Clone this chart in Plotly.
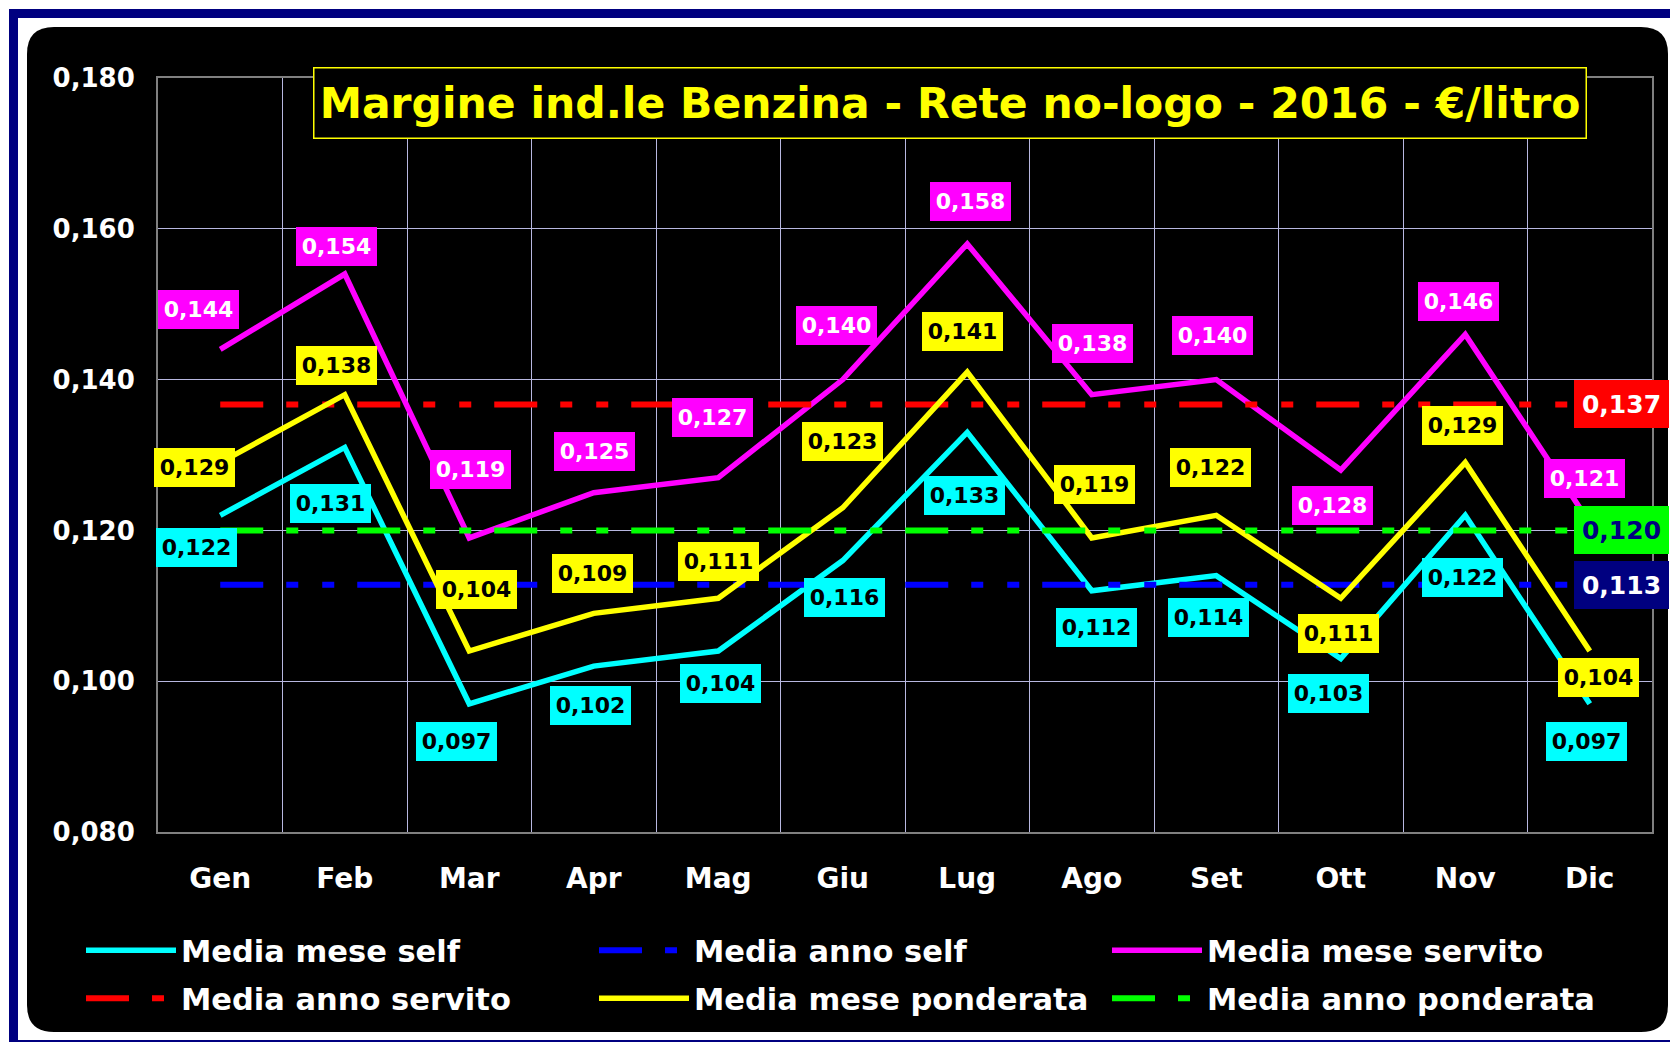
import plotly.graph_objects as go

# ---------------- data ----------------
months = ["Gen", "Feb", "Mar", "Apr", "Mag", "Giu", "Lug", "Ago", "Set", "Ott", "Nov", "Dic"]
self_mese = [0.122, 0.131, 0.097, 0.102, 0.104, 0.116, 0.133, 0.112, 0.114, 0.103, 0.122, 0.097]
servito_mese = [0.144, 0.154, 0.119, 0.125, 0.127, 0.140, 0.158, 0.138, 0.140, 0.128, 0.146, 0.121]
ponderata_mese = [0.129, 0.138, 0.104, 0.109, 0.111, 0.123, 0.141, 0.119, 0.122, 0.111, 0.129, 0.104]
self_anno = 0.1128
servito_anno = 0.1367
ponderata_anno = 0.1200
y_ticks = [0.08, 0.10, 0.12, 0.14, 0.16, 0.18]

# label offsets (pixels) relative to each point
self_dx = [-24, -14, -13, -3, 2, 2, -3, 5, -8, -12, -3, -3]
self_dy = [-32, -56, -38, -39, -32, -37, -63, -37, -42, -35, -62, -38]
serv_dx = [-22, -8, 1, 1, -6, -6, 3, 1, -4, -8, -7, -5]
serv_dy = [40, 28, 68, 41, 60, 54, 42, 51, 44, -35, 33, 44]
pond_dx = [-26, -8, 7, -1, 0, 0, -5, 3, -6, -2, -3, 9]
pond_dy = [-5, 29, 62, 40, 37, 66, 41, 53, 48, -35, 37, -26]

FONT = "DejaVu Sans"
W, H = 1670, 1042
L, R, T, B = 158, 18, 78, 210
PW, PH = W - L - R, H - T - B

def px_x(p):
    return (p - L) / PW

def px_y(p):
    return (H - B - p) / PH

DASH = "43px,23px,12px,24px,12px,23px"

fig = go.Figure()
fig.add_trace(go.Scatter(x=months, y=self_mese, mode="lines", name="Media mese self",
                         line=dict(color="#00FFFF", width=5.5), legend="legend"))
fig.add_trace(go.Scatter(x=months, y=[self_anno] * len(months), mode="lines", name="Media anno self",
                         line=dict(color="#0000FF", width=6, dash=DASH), legend="legend"))
fig.add_trace(go.Scatter(x=months, y=servito_mese, mode="lines", name="Media mese servito",
                         line=dict(color="#FF00FF", width=5.5), legend="legend"))
fig.add_trace(go.Scatter(x=months, y=[servito_anno] * len(months), mode="lines", name="Media anno servito",
                         line=dict(color="#FF0000", width=6, dash=DASH), legend="legend2"))
fig.add_trace(go.Scatter(x=months, y=ponderata_mese, mode="lines", name="Media mese ponderata",
                         line=dict(color="#FFFF00", width=5.5), legend="legend2"))
fig.add_trace(go.Scatter(x=months, y=[ponderata_anno] * len(months), mode="lines", name="Media anno ponderata",
                         line=dict(color="#00FF00", width=6, dash=DASH), legend="legend2"))

def fmt(v):
    return f"{v:.3f}".replace(".", ",")

ann = []
def add_labels(vals, dxs, dys, bg, fg):
    for m, v, dx, dy in zip(months, vals, dxs, dys):
        ann.append(dict(x=m, y=v, xref="x", yref="y", text=f"<b>{fmt(v)}</b>", showarrow=False,
                        xanchor="center", yanchor="middle",
                        xshift=dx, yshift=dy, bgcolor=bg, borderpad=0, borderwidth=0,
                        width=81, height=39, font=dict(family=FONT, size=22, color=fg)))

add_labels(self_mese, self_dx, self_dy, "#00FFFF", "#000000")
add_labels(servito_mese, serv_dx, serv_dy, "#FF00FF", "#FFFFFF")
add_labels(ponderata_mese, pond_dx, pond_dy, "#FFFF00", "#000000")

for v, bg, fg in [(servito_anno, "#FF0000", "#FFFFFF"), (ponderata_anno, "#00FF00", "#000080"),
                  (self_anno, "#000080", "#FFFFFF")]:
    ann.append(dict(x=months[-1], y=v, xref="x", yref="y", text=f"<b>{fmt(v)}</b>", showarrow=False,
                    xanchor="center", yanchor="middle",
                    xshift=32, yshift=0, bgcolor=bg, borderpad=0, borderwidth=0,
                    width=95, height=48, font=dict(family=FONT, size=25, color=fg)))

# title box
ann.append(dict(x=px_x(950), y=px_y(103.3), xref="paper", yref="paper", xanchor="center", yanchor="middle",
                text="<b>Margine ind.le Benzina - Rete no-logo - 2016 - €/litro</b>",
                showarrow=False, bgcolor="#000000", bordercolor="#FFFF00", borderwidth=1.5,
                borderpad=0, width=1271, height=69, font=dict(family=FONT, size=42.5, color="#FFFF00")))

# background shapes
x0, x1, y0, y1 = px_x(27), px_x(1668), px_y(1032), px_y(27)
rx, ry = 27 / PW, 27 / PH
path = (f"M{x0+rx},{y1} L{x1-rx},{y1} Q{x1},{y1} {x1},{y1-ry} L{x1},{y0+ry} Q{x1},{y0} {x1-rx},{y0} "
        f"L{x0+rx},{y0} Q{x0},{y0} {x0},{y0+ry} L{x0},{y1-ry} Q{x0},{y1} {x0+rx},{y1} Z")
shapes = [
    dict(type="rect", xref="paper", yref="paper", x0=px_x(13.5), x1=px_x(1690), y0=px_y(1044.5), y1=px_y(13.5),
         line=dict(color="#000080", width=9), fillcolor="rgba(0,0,0,0)", layer="below"),
    dict(type="path", xref="paper", yref="paper", path=path, fillcolor="#000000",
         line=dict(width=0), layer="below"),
]

legend_common = dict(orientation="h", xanchor="left", yanchor="top", entrywidth=408, entrywidthmode="pixels",
                     itemwidth=90, bgcolor="rgba(0,0,0,0)", borderwidth=0, traceorder="normal",
                     font=dict(family=FONT, size=30.5, color="#FFFFFF", weight="bold"))

fig.update_layout(
    width=W, height=H,
    margin=dict(l=L, r=R, t=T, b=B, autoexpand=False),
    paper_bgcolor="#FFFFFF", plot_bgcolor="#000000",
    separators=",.",
    showlegend=True,
    legend=dict(**legend_common, x=px_x(81), y=px_y(924)),
    legend2=dict(**legend_common, x=px_x(81), y=px_y(972)),
    annotations=ann,
    shapes=shapes,
    xaxis=dict(type="category", categoryorder="array", categoryarray=months, tickson="boundaries",
               showgrid=True, gridcolor="#B8B8E0", gridwidth=1, showline=True, linecolor="#808080",
               linewidth=2, mirror=True, ticks="", ticklabelstandoff=20, zeroline=False,
               tickfont=dict(family=FONT, size=28, color="#FFFFFF", weight="bold"), range=[-0.5, 11.5]),
    yaxis=dict(range=[0.08, 0.18], tickvals=y_ticks, tickformat=".3f", showgrid=True, gridcolor="#B8B8E0",
               gridwidth=1, showline=True, linecolor="#808080", linewidth=2, mirror=True, ticks="",
               ticklabelstandoff=16, zeroline=False,
               tickfont=dict(family=FONT, size=26, color="#FFFFFF", weight="bold")),
)

fig.write_html("out.html", config={"displayModeBar": False},
               post_script="document.body.style.margin='0';document.body.style.overflow='hidden';")
